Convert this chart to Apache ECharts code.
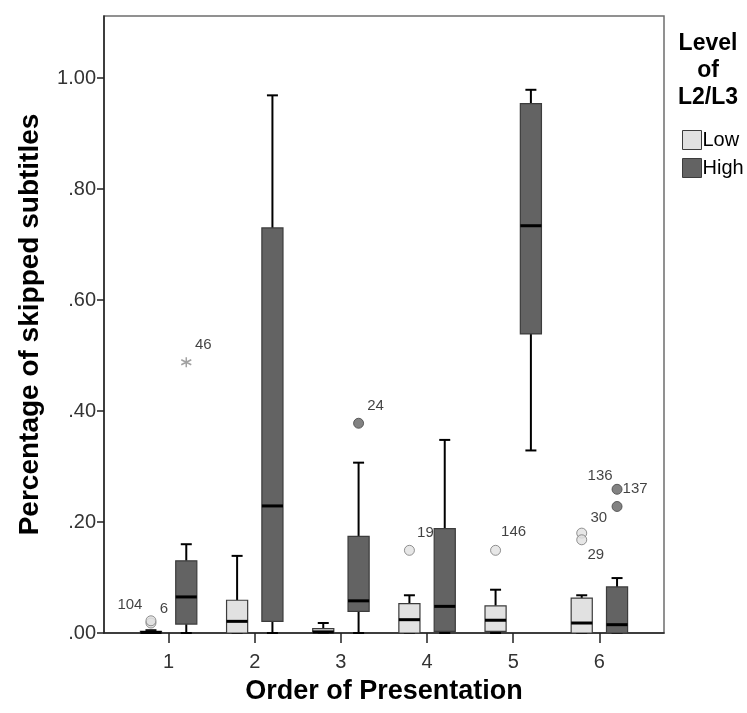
<!DOCTYPE html>
<html>
<head>
<meta charset="utf-8">
<script src="https://cdn.jsdelivr.net/npm/echarts@6/dist/echarts.min.js"></script>
<style>
  html, body { margin: 0; padding: 0; background: #fff; }
  #chart { width: 747px; height: 713px; }
</style>
</head>
<body>
<div id="chart"></div>
<script>
// Order of presentation (x groups)
const orders = [1, 2, 3, 4, 5, 6];
const yTicks = [0, 0.2, 0.4, 0.6, 0.8, 1.0];

// Box statistics per order: [order, lowerWhisker, Q1, median, Q3, upperWhisker]
const lowStats = [
  [1, 0.000, 0.000, 0.001, 0.003, 0.005],
  [2, 0.000, 0.000, 0.021, 0.059, 0.139],
  [3, 0.000, 0.000, 0.002, 0.008, 0.018],
  [4, 0.000, 0.000, 0.024, 0.053, 0.068],
  [5, 0.000, 0.003, 0.023, 0.049, 0.078],
  [6, 0.000, 0.000, 0.018, 0.063, 0.068]
];
const highStats = [
  [1, 0.000, 0.016, 0.065, 0.130, 0.160],
  [2, 0.000, 0.021, 0.229, 0.730, 0.969],
  [3, 0.000, 0.039, 0.058, 0.174, 0.307],
  [4, 0.000, 0.003, 0.048, 0.188, 0.348],
  [5, 0.329, 0.539, 0.734, 0.954, 0.979],
  [6, 0.000, 0.000, 0.015, 0.083, 0.099]
];

// Outliers: [order, value, case id]
const lowOutliers = [
  [1, 0.018, '104'],
  [1, 0.022, '6'],
  [4, 0.149, '19'],
  [5, 0.149, '146'],
  [6, 0.180, '30'],
  [6, 0.168, '29']
];
const highOutliers = [
  [3, 0.378, '24'],
  [6, 0.259, '136'],
  [6, 0.228, '137']
];
const highExtremes = [
  [1, 0.488, '46']
];

// Case-label placement relative to the marker (pixels)
const labelOffsets = {
  '104': [-21, -18], '6': [13, -12], '46': [17, -17], '24': [17, -17],
  '19': [16, -17], '146': [18, -18], '30': [17, -15], '29': [14, 15],
  '136': [-17, -13], '137': [18, -18]
};

const LOW_SHIFT = -0.205;
const HIGH_SHIFT = 0.205;
const BOX_WIDTH = 0.245;
const LOW_FILL = '#e1e1e1';
const HIGH_FILL = '#636363';
const FONT = 'Liberation Sans, Arial, sans-serif';

function boxRenderer(shift, fill) {
  return function (params, api) {
    const x = api.value(0) + shift;
    const lo = api.coord([x, api.value(1)]);
    const q1 = api.coord([x, api.value(2)]);
    const md = api.coord([x, api.value(3)]);
    const q3 = api.coord([x, api.value(4)]);
    const hi = api.coord([x, api.value(5)]);
    const halfW = api.size([BOX_WIDTH, 0])[0] / 2;
    const capHalf = 5.5;
    const whisker = { stroke: '#000', lineWidth: 2 };
    return {
      type: 'group',
      children: [
        { type: 'line', shape: { x1: hi[0], y1: hi[1], x2: q3[0], y2: q3[1] }, style: whisker },
        { type: 'line', shape: { x1: lo[0], y1: lo[1], x2: q1[0], y2: q1[1] }, style: whisker },
        { type: 'line', shape: { x1: hi[0] - capHalf, y1: hi[1], x2: hi[0] + capHalf, y2: hi[1] }, style: whisker },
        { type: 'line', shape: { x1: lo[0] - capHalf, y1: lo[1], x2: lo[0] + capHalf, y2: lo[1] }, style: whisker },
        { type: 'rect', shape: { x: q3[0] - halfW, y: q3[1], width: halfW * 2, height: Math.max(q1[1] - q3[1], 1) },
          style: { fill: fill, stroke: '#3c3c3c', lineWidth: 1.2 } },
        { type: 'line', shape: { x1: md[0] - halfW, y1: md[1], x2: md[0] + halfW, y2: md[1] },
          style: { stroke: '#000', lineWidth: 3 } }
      ]
    };
  };
}

function outlierData(list, shift) {
  return list.map(function (d) {
    const off = labelOffsets[d[2]] || [14, -14];
    return {
      value: [d[0] + shift, d[1]],
      name: d[2],
      label: { offset: off }
    };
  });
}

const caseLabel = {
  show: true,
  position: 'inside',
  formatter: function (p) { return p.name; },
  color: '#111',
  fontSize: 15,
  fontFamily: FONT
};

const chart = echarts.init(document.getElementById('chart'), null, { renderer: 'canvas' });

chart.setOption({
  animation: false,
  backgroundColor: '#ffffff',
  textStyle: { fontFamily: FONT },
  grid: {
    left: 104, right: 83, top: 16, bottom: 80,
    show: true, borderColor: '#6e6e6e', borderWidth: 1.5, backgroundColor: 'transparent'
  },
  xAxis: {
    type: 'value',
    min: 0.25, max: 6.75,
    name: 'Order of Presentation',
    nameLocation: 'middle',
    nameGap: 45,
    nameTextStyle: { fontSize: 27, fontWeight: 'bold', color: '#000', fontFamily: FONT },
    axisLine: { show: true, lineStyle: { color: '#222', width: 1.5 } },
    axisTick: { show: true, length: 10, customValues: orders, lineStyle: { color: '#222', width: 1.5 } },
    axisLabel: { customValues: orders, margin: 19, fontSize: 20, color: '#333',
      formatter: function (v) { return String(v); } },
    splitLine: { show: false }
  },
  yAxis: {
    type: 'value',
    min: 0, max: 1.112,
    name: 'Percentage of skipped subtitles',
    nameLocation: 'middle',
    nameRotate: 90,
    nameGap: 60,
    nameTextStyle: { fontSize: 28, fontWeight: 'bold', color: '#000', fontFamily: FONT },
    axisLine: { show: true, lineStyle: { color: '#222', width: 1.5 } },
    axisTick: { show: true, length: 7, customValues: yTicks, lineStyle: { color: '#222', width: 1.5 } },
    axisLabel: { customValues: yTicks, margin: 8, fontSize: 20, color: '#333',
      formatter: function (v) { return v.toFixed(2).replace(/^0/, ''); } },
    splitLine: { show: false }
  },
  legend: {
    orient: 'vertical',
    left: 677, top: 125,
    itemWidth: 19, itemHeight: 19, itemGap: 8,
    icon: 'rect',
    textStyle: { fontSize: 20, color: '#000', padding: [0, 0, 0, -4], fontFamily: FONT },
    data: [
      { name: 'Low', itemStyle: { color: LOW_FILL, borderColor: '#3c3c3c', borderWidth: 1 } },
      { name: 'High', itemStyle: { color: HIGH_FILL, borderColor: '#3c3c3c', borderWidth: 1 } }
    ]
  },
  graphic: [{
    type: 'text',
    x: 708, y: 30,
    style: {
      text: 'Level\nof\nL2/L3',
      textAlign: 'center',
      textVerticalAlign: 'top',
      fontSize: 23, fontWeight: 'bold', lineHeight: 27,
      fontFamily: FONT,
      fill: '#000'
    }
  }],
  series: [
    {
      name: 'Low', type: 'custom', itemStyle: { color: LOW_FILL },
      renderItem: boxRenderer(LOW_SHIFT, LOW_FILL),
      encode: { x: 0, y: [1, 2, 3, 4, 5] },
      data: lowStats, z: 3
    },
    {
      name: 'High', type: 'custom', itemStyle: { color: HIGH_FILL },
      renderItem: boxRenderer(HIGH_SHIFT, HIGH_FILL),
      encode: { x: 0, y: [1, 2, 3, 4, 5] },
      data: highStats, z: 3
    },
    {
      name: 'Low outliers', type: 'scatter', symbol: 'circle', symbolSize: 10,
      itemStyle: { color: LOW_FILL, borderColor: '#777', borderWidth: 1 },
      label: caseLabel, data: outlierData(lowOutliers, LOW_SHIFT), z: 4
    },
    {
      name: 'High outliers', type: 'scatter', symbol: 'circle', symbolSize: 10,
      itemStyle: { color: HIGH_FILL, borderColor: '#444', borderWidth: 1 },
      label: caseLabel, data: outlierData(highOutliers, HIGH_SHIFT), z: 4
    },
    {
      name: 'High extremes', type: 'scatter',
      symbol: 'path://M5,0 L5,10 M0.7,2.5 L9.3,7.5 M0.7,7.5 L9.3,2.5',
      symbolSize: 10,
      itemStyle: { color: 'none', borderColor: '#8a8a8a', borderWidth: 1.5 },
      label: caseLabel, data: outlierData(highExtremes, HIGH_SHIFT), z: 4
    }
  ]
});
</script>
</body>
</html>
